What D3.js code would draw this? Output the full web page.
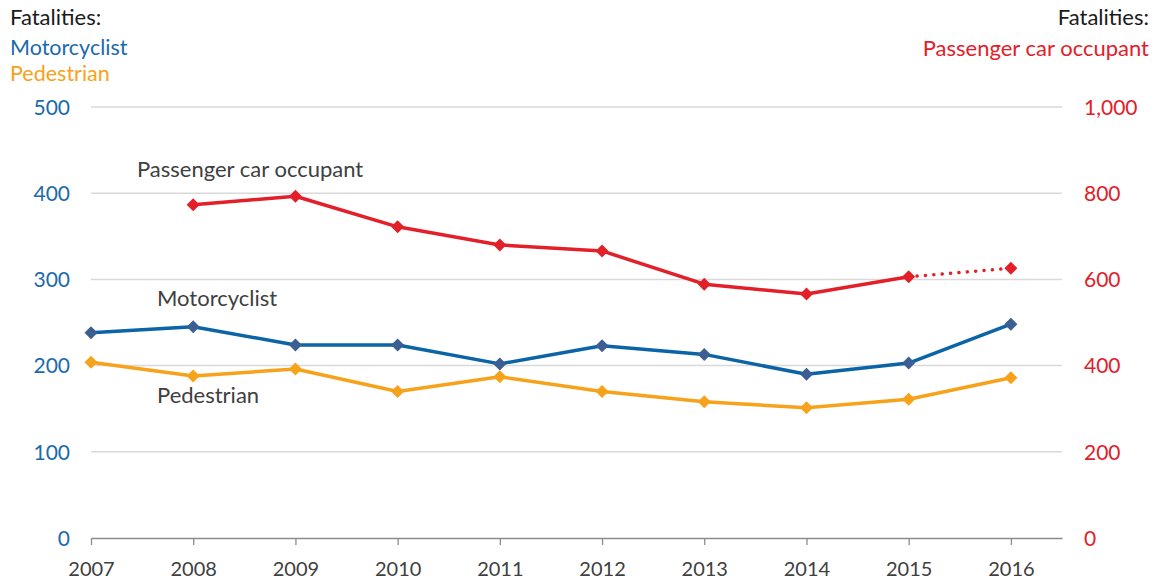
<!DOCTYPE html>
<html><head><meta charset="utf-8">
<script src="https://cdn.jsdelivr.net/npm/d3@7"></script>
<style>body{margin:0;background:#fff;} text{font-family:Lato, "Open Sans", sans-serif;}</style>
</head><body>
<svg id="c" width="1159" height="582"></svg>
<script>
const years = [2007,2008,2009,2010,2011,2012,2013,2014,2015,2016];
const motorcyclist = [238,245,224,224,202,223,213,190,203,248];
const pedestrian = [204,188,196,170,187,170,158,151,161,186];
const passengerYears = [2008,2009,2010,2011,2012,2013,2014,2015,2016];
const passenger = [773,793,722,680,666,589,566,606,626];
const leftTicks = [0,100,200,300,400,500];
const rightTicks = [0,200,400,600,800,1000];

const svg = d3.select("#c");
const x = d3.scaleLinear().domain([2007, 2016.5]).range([91, 1062]);
const yL = d3.scaleLinear().domain([0, 500]).range([538, 107]);
const yR = d3.scaleLinear().domain([0, 1000]).range([538, 107]);

const blue = "#0a64a6", blueM = "#3b5e93", orange = "#f7a21b", red = "#e3202a";

// gridlines
svg.append("g").selectAll("line").data(leftTicks.filter(d=>d>0)).join("line")
  .attr("x1", 91).attr("x2", 1062).attr("y1", d=>yL(d)).attr("y2", d=>yL(d))
  .attr("stroke", "#d9d9d9").attr("stroke-width", 1.5);

// x axis
const xAxis = d3.axisBottom(x).tickValues(years).tickFormat(d3.format("d")).tickSize(7).tickSizeOuter(0);
const gx = svg.append("g").attr("transform", "translate(0,538)").call(xAxis);
gx.select(".domain").attr("stroke", "#8c8c8c").attr("stroke-width", 1.3);
gx.selectAll(".tick line").attr("stroke", "#8c8c8c").attr("stroke-width", 1.3);
gx.selectAll(".tick text").attr("fill", "#404040").attr("font-size", 20).attr("dy", 0).attr("y", 38);

// left axis
const gl = svg.append("g").attr("transform", "translate(70,0)")
  .call(d3.axisLeft(yL).tickValues(leftTicks).tickSize(0).tickPadding(0));
gl.select(".domain").remove();
gl.selectAll(".tick text").attr("fill", "#1b6aab").attr("font-size", 21).attr("dy", "0.35em");

// right axis
const gr = svg.append("g").attr("transform", "translate(1084,0)")
  .call(d3.axisRight(yR).tickValues(rightTicks).tickFormat(d3.format(",")).tickSize(0).tickPadding(0));
gr.select(".domain").remove();
gr.selectAll(".tick text").attr("fill", red).attr("font-size", 21).attr("dy", "0.35em");

// square diamond marker
const diamond = r => `M0,${-r}L${r},0L0,${r}L${-r},0Z`;
function series(xs, ys, yScale, lineColor, markColor) {
  const pts = xs.map((d,i)=>[x(d), yScale(ys[i])]);
  svg.append("path").attr("d", d3.line()(pts)).attr("fill","none")
    .attr("stroke", lineColor).attr("stroke-width", 3.5).attr("stroke-linejoin","round");
  svg.append("g").selectAll("path").data(pts).join("path")
    .attr("d", diamond(6.5)).attr("transform", d=>`translate(${d[0]},${d[1]})`).attr("fill", markColor);
}
series(years, pedestrian, yL, orange, orange);
series(years, motorcyclist, yL, blue, blueM);

// passenger: solid until 2015, dotted 2015-2016
const pPts = passengerYears.map((d,i)=>[x(d), yR(passenger[i])]);
const solid = pPts.slice(0, pPts.length-1);
const dotted = pPts.slice(pPts.length-2);
svg.append("path").attr("d", d3.line()(solid)).attr("fill","none")
  .attr("stroke", red).attr("stroke-width", 3.5).attr("stroke-linejoin","round");
svg.append("path").attr("d", d3.line()(dotted)).attr("fill","none")
  .attr("stroke", red).attr("stroke-width", 3.5).attr("stroke-linecap","round")
  .attr("stroke-dasharray", "0.1 8.3");
svg.append("g").selectAll("path").data(pPts).join("path")
  .attr("d", diamond(6.5)).attr("transform", d=>`translate(${d[0]},${d[1]})`).attr("fill", red);

// inline labels
const lab = svg.append("g").attr("fill", "#404040").attr("font-size", 22);
lab.append("text").attr("x", 137).attr("y", 177).text("Passenger car occupant");
lab.append("text").attr("x", 157).attr("y", 306).text("Motorcyclist");
lab.append("text").attr("x", 157).attr("y", 403).text("Pedestrian");

// legends
svg.append("text").attr("x", 10).attr("y", 25).attr("font-size", 22).attr("fill", "#1a1a1a").text("Fatalities:");
svg.append("text").attr("x", 10).attr("y", 55).attr("font-size", 21.5).attr("fill", "#1b6aab").text("Motorcyclist");
svg.append("text").attr("x", 10).attr("y", 81).attr("font-size", 21.5).attr("fill", orange).text("Pedestrian");
svg.append("text").attr("x", 1149).attr("y", 25).attr("font-size", 22).attr("fill", "#1a1a1a").attr("text-anchor","end").text("Fatalities:");
svg.append("text").attr("x", 1149).attr("y", 56).attr("font-size", 22).attr("fill", red).attr("text-anchor","end").text("Passenger car occupant");
</script>
</body></html>
